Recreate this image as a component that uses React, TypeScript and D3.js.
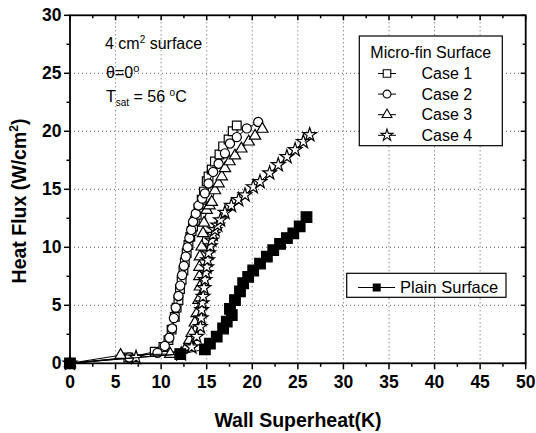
import React from 'react';
import * as d3 from 'd3';

// series: wall superheat (K) vs heat flux (W/cm2)
const case1X = [0, 6.4, 9.3, 10.25, 10.8, 11.15, 11.5, 11.7, 11.9, 12.07, 12.25, 12.45, 12.6, 12.8, 13.0, 13.2, 13.35, 13.5, 13.7, 13.9, 14.1, 14.45, 14.7, 15.0, 15.2, 15.55, 15.9, 16.4, 16.8, 17.4, 17.85, 18.3];
const case1Y = [0, 0.5, 1.0, 1.4, 2.0, 2.9, 4.0, 4.8, 5.45, 6.4, 7.2, 8.0, 8.7, 9.5, 10.2, 10.9, 11.4, 11.8, 12.3, 12.8, 13.4, 14.1, 14.8, 15.7, 16.1, 16.7, 17.4, 18.0, 18.7, 19.3, 20.0, 20.5];

const case2X = [0, 6.5, 9.6, 10.4, 10.9, 11.2, 11.4, 11.6, 11.9, 12.1, 12.3, 12.5, 12.7, 12.9, 13.1, 13.3, 13.5, 13.8, 14.1, 14.5, 14.8, 15.2, 15.7, 16.3, 17.0, 17.55, 18.3, 19.4, 20.65];
const case2Y = [0, 0.5, 0.9, 1.5, 2.2, 3.0, 3.9, 4.8, 5.8, 6.7, 7.6, 8.4, 9.2, 10.0, 10.8, 11.5, 12.2, 12.9, 13.6, 14.2, 14.65, 15.5, 16.5, 17.2, 18.1, 18.95, 19.5, 20.25, 20.8];

const case3X = [0, 5.55, 11.0, 12.8, 13.1, 13.35, 13.7, 13.9, 14.1, 14.25, 14.2, 14.2, 14.25, 14.45, 14.6, 14.7, 15.0, 15.3, 15.55, 15.9, 16.3, 16.65, 17.0, 17.5, 18.1, 18.8, 19.6, 20.3, 21.1];
const case3Y = [0, 0.7, 0.8, 1.4, 2.0, 2.6, 3.5, 4.3, 5.45, 6.6, 7.5, 8.3, 9.2, 10.05, 11.2, 12.1, 13.2, 13.6, 13.9, 14.9, 15.5, 16.1, 16.8, 17.4, 17.9, 18.5, 19.1, 19.6, 20.2];

const case4X = [0, 7.25, 12.2, 13.35, 13.9, 14.3, 14.4, 14.45, 14.5, 14.6, 14.7, 14.8, 14.9, 15.0, 15.1, 15.2, 15.4, 15.55, 15.7, 15.9, 16.2, 16.5, 17.0, 17.7, 18.5, 19.2, 20.1, 20.85, 21.9, 22.85, 23.8, 24.7, 25.6, 26.3];
const case4Y = [0, 0.5, 0.8, 1.4, 2.3, 3.15, 3.9, 4.6, 5.2, 5.75, 6.5, 7.2, 7.8, 8.3, 8.9, 9.5, 10.1, 10.6, 11.1, 11.5, 11.9, 12.35, 13.0, 13.6, 14.1, 14.5, 15.2, 15.65, 16.4, 17.1, 17.8, 18.4, 19.1, 19.7];

const plainX = [0, 12.1, 14.8, 15.35, 16.1, 16.8, 17.2, 17.75, 17.55, 18.1, 18.65, 19.0, 19.55, 20.1, 20.85, 21.6, 22.3, 23.05, 23.8, 24.5, 25.2, 25.95];
const plainY = [0, 0.8, 1.2, 1.7, 2.3, 3.0, 3.6, 4.15, 4.7, 5.45, 6.2, 6.9, 7.45, 8.0, 8.6, 9.2, 9.75, 10.3, 10.8, 11.2, 11.8, 12.6];

const caseLabels = ['Case 1', 'Case 2', 'Case 3', 'Case 4'];
const xTicks = [0, 5, 10, 15, 20, 25, 30, 35, 40, 45, 50];
const yTicks = [0, 5, 10, 15, 20, 25, 30];

const FONT = '"Liberation Sans", Arial, Helvetica, sans-serif';

const W = 536;
const H = 433;
const M = { left: 70, right: 10.3, top: 15.3, bottom: 69.7 };

type Series = { xs: number[]; ys: number[]; shape: d3.SymbolType; size: number; filled: boolean };

const series: Series[] = [
  { xs: case1X, ys: case1Y, shape: d3.symbolSquare, size: 76, filled: false },
  { xs: case2X, ys: case2Y, shape: d3.symbolCircle, size: 66, filled: false },
  { xs: case3X, ys: case3Y, shape: d3.symbolTriangle, size: 56, filled: false },
  { xs: case4X, ys: case4Y, shape: d3.symbolStar, size: 58, filled: false },
  { xs: plainX, ys: plainY, shape: d3.symbolSquare, size: 112, filled: true },
];

export default function App() {
  const x = d3.scaleLinear().domain([0, 50]).range([M.left, W - M.right]);
  const y = d3.scaleLinear().domain([0, 30]).range([H - M.bottom, M.top]);
  const [x0, x1] = x.range();
  const [y0, y1] = y.range();

  const minorX = d3.range(2.5, 50, 5);
  const minorY = d3.range(2.5, 30, 5);

  const line = d3.line<[number, number]>().x((d) => x(d[0])).y((d) => y(d[1]));

  // legend for micro-fin cases
  const lg = { x: 359.3, y: 36, w: 143, h: 109.7 };
  const legendShapes = series.slice(0, 4);

  return (
    <svg width={W} height={H} style={{ position: 'absolute', left: 0, top: 0, background: '#fff' }} fontFamily={FONT}>
      {/* dotted grid */}
      <g stroke="#333" strokeWidth={0.8} strokeDasharray="1,3">
        {xTicks.slice(1, -1).map((t) => (
          <line key={'gx' + t} x1={x(t)} x2={x(t)} y1={y0} y2={y1} />
        ))}
        {yTicks.slice(1, -1).map((t) => (
          <line key={'gy' + t} x1={x0} x2={x1} y1={y(t)} y2={y(t)} />
        ))}
      </g>

      {/* series lines and markers */}
      {series.map((s, i) => {
        const pts = s.xs.map((v, j) => [v, s.ys[j]] as [number, number]);
        const sym = d3.symbol().type(s.shape).size(s.size)() as string;
        return (
          <g key={'s' + i}>
            <path d={line(pts) as string} fill="none" stroke="#000" strokeWidth={1} />
            {pts.map((p, j) => (
              <path
                key={j}
                d={sym}
                transform={`translate(${x(p[0])},${y(p[1])})`}
                fill={s.filled ? '#000' : '#fff'}
                stroke="#000"
                strokeWidth={1.2}
              />
            ))}
          </g>
        );
      })}

      {/* frame */}
      <rect x={x0} y={y1} width={x1 - x0} height={y0 - y1} fill="none" stroke="#000" strokeWidth={1.8} />

      {/* ticks */}
      <g stroke="#000" strokeWidth={1.5}>
        {xTicks.map((t) => (
          <g key={'tx' + t}>
            <line x1={x(t)} x2={x(t)} y1={y0} y2={y0 + 6} />
            <line x1={x(t)} x2={x(t)} y1={y1} y2={y1 + 5} />
          </g>
        ))}
        {minorX.map((t) => (
          <g key={'mx' + t}>
            <line x1={x(t)} x2={x(t)} y1={y0} y2={y0 + 3.5} />
            <line x1={x(t)} x2={x(t)} y1={y1} y2={y1 + 3} />
          </g>
        ))}
        {yTicks.map((t) => (
          <g key={'ty' + t}>
            <line x1={x0 - 6} x2={x0} y1={y(t)} y2={y(t)} />
            <line x1={x1 - 5} x2={x1} y1={y(t)} y2={y(t)} />
          </g>
        ))}
        {minorY.map((t) => (
          <g key={'my' + t}>
            <line x1={x0 - 3.5} x2={x0} y1={y(t)} y2={y(t)} />
            <line x1={x1 - 3} x2={x1} y1={y(t)} y2={y(t)} />
          </g>
        ))}
      </g>

      {/* tick labels */}
      <g fontSize={17.5} fontWeight="bold" fill="#000">
        {xTicks.map((t) => (
          <text key={'lx' + t} x={x(t)} y={y0 + 25} textAnchor="middle">
            {t}
          </text>
        ))}
        {yTicks.map((t) => (
          <text key={'ly' + t} x={x0 - 8.5} y={y(t) + 6} textAnchor="end">
            {t}
          </text>
        ))}
      </g>

      {/* axis titles */}
      <text x={298} y={427} fontSize={19.5} fontWeight="bold" textAnchor="middle">
        Wall Superheat(K)
      </text>
      <text transform={`translate(26,201) rotate(-90)`} fontSize={19.5} fontWeight="bold" textAnchor="middle">
        Heat Flux (W/cm<tspan dy={-8} fontSize={12}>2</tspan>
        <tspan dy={8}>)</tspan>
      </text>

      {/* annotations */}
      <g fontSize={16} fill="#000">
        <text x={105} y={49}>
          4 cm<tspan dy={-6} fontSize={10}>2</tspan>
          <tspan dy={6}> surface</tspan>
        </text>
        <text x={106} y={78}>
          θ=0<tspan dy={-6} fontSize={11}>o</tspan>
        </text>
        <text x={106} y={102}>
          T<tspan dy={4} fontSize={10}>sat</tspan>
          <tspan dy={-4}> = 56 </tspan>
          <tspan dy={-6} fontSize={10}>o</tspan>
          <tspan dy={6}>C</tspan>
        </text>
      </g>

      {/* legend: micro-fin */}
      <rect x={lg.x} y={lg.y} width={lg.w} height={lg.h} fill="#fff" stroke="#000" strokeWidth={1.2} />
      <text x={lg.x + lg.w / 2} y={lg.y + 22} fontSize={16} textAnchor="middle">
        Micro-fin Surface
      </text>
      {legendShapes.map((s, i) => {
        const cy = lg.y + 37.5 + i * 20.6;
        const sym = d3.symbol().type(s.shape).size(s.size * 0.75)() as string;
        return (
          <g key={'lg' + i}>
            <line x1={378} x2={396} y1={cy} y2={cy} stroke="#000" strokeWidth={1} />
            <path d={sym} transform={`translate(387,${cy})`} fill="#fff" stroke="#000" strokeWidth={1.1} />
            <text x={421.5} y={cy + 5.5} fontSize={16}>
              {caseLabels[i]}
            </text>
          </g>
        );
      })}

      {/* legend: plain surface */}
      <rect x={346.7} y={273.3} width={159.3} height={24} fill="#fff" stroke="#000" strokeWidth={1.2} />
      <line x1={358} x2={395} y1={287.5} y2={287.5} stroke="#000" strokeWidth={1} />
      <path
        d={d3.symbol().type(d3.symbolSquare).size(64)() as string}
        transform="translate(376.7,287.5)"
        fill="#000"
      />
      <text x={400} y={293} fontSize={16.5}>
        Plain Surface
      </text>
    </svg>
  );
}
